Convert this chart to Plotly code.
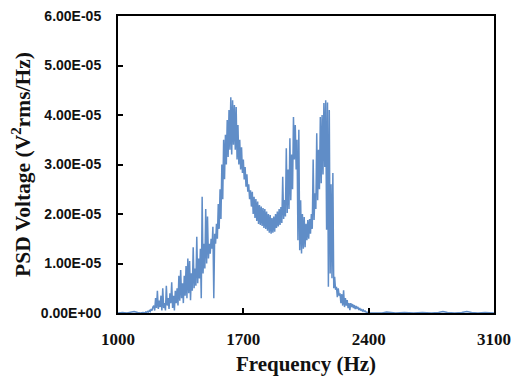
import plotly.graph_objects as go

# Frequency grid segments (Hz) and PSD values in units of 1e-5 V^2rms/Hz
freq_low = [1000, 1025, 1050, 1075, 1090, 1110, 1125, 1140]
psd_low = [0.0, 0.01, 0.0, 0.02, 0.03, 0.01, 0.0, 0.01]

freq_mid = [1150 + 5 * i for i in range(251)]  # 1150 .. 2400 Hz
psd_mid = [
    0.0, 0.02, 0.01, 0.03, 0.02, 0.05, 0.03, 0.08, 0.05, 0.12,
    0.15, 0.05, 0.30, 0.10, 0.45, 0.08, 0.25, 0.12, 0.35, 0.05,
    0.50, 0.10, 0.20, 0.05, 0.55, 0.15, 0.30, 0.08, 0.40, 0.20,
    0.62, 0.10, 0.35, 0.05, 0.45, 0.20, 0.50, 0.15, 0.75, 0.25,
    0.87, 0.30, 0.60, 0.20, 0.75, 0.35, 0.95, 0.30, 1.10, 0.40,
    1.05, 0.26, 0.80, 0.45, 1.33, 0.50, 0.90, 0.55, 1.54, 0.60,
    1.10, 0.70, 1.30, 0.30, 2.35, 0.80, 1.40, 0.90, 2.10, 1.00,
    1.95, 1.10, 1.40, 1.20, 1.50, 1.30, 1.74, 0.30, 1.60, 1.40,
    1.80, 1.50, 2.20, 1.70, 2.50, 1.90, 3.00, 2.30, 3.50, 2.70,
    3.60, 3.00, 3.90, 3.15, 4.10, 3.30, 4.36, 3.20, 4.30, 3.40,
    4.20, 3.30, 4.16, 3.10, 3.80, 3.00, 3.50, 2.90, 3.35, 2.83,
    3.10, 2.70, 2.95, 2.55, 2.80, 2.45, 2.60, 2.30, 2.48, 2.15,
    2.45, 2.00, 2.35, 1.92, 2.30, 1.86, 2.25, 1.80, 2.18, 1.78,
    2.15, 1.76, 2.12, 1.72, 2.10, 1.70, 2.05, 1.66, 2.00, 1.62,
    1.98, 1.60, 1.92, 1.62, 1.95, 1.64, 2.00, 1.72, 2.05, 1.75,
    2.10, 1.78, 2.14, 1.82, 2.75, 1.90, 2.28, 1.95, 3.33, 2.02,
    2.90, 2.10, 3.53, 2.28, 3.20, 2.50, 3.96, 3.10, 3.80, 2.90,
    3.50, 1.47, 3.70, 1.27, 2.28, 1.20, 2.00, 1.30, 1.94, 1.33,
    1.80, 1.47, 1.88, 1.50, 1.90, 1.60, 2.00, 1.70, 3.10, 1.88,
    2.42, 2.10, 3.63, 2.28, 3.30, 2.50, 3.96, 2.62, 4.00, 2.80,
    4.24, 2.95, 4.30, 1.68, 4.25, 0.53, 4.10, 0.80, 2.60, 0.70,
    2.83, 0.50, 0.73, 0.47, 0.53, 0.32, 0.50, 0.35, 0.40, 0.20,
    0.38, 0.15, 0.46, 0.12, 0.30, 0.15, 0.26, 0.10, 0.20, 0.06,
    0.20, 0.12, 0.18, 0.10, 0.16, 0.08, 0.14, 0.10, 0.12, 0.06,
    0.10, 0.05, 0.08, 0.04, 0.06, 0.03, 0.04, 0.02, 0.02, 0.01,
    0.0,
]

freq_high = [2425, 2450, 2475, 2500, 2525, 2550, 2600, 2650, 2700, 2750,
             2790, 2815, 2840, 2880, 2920, 2948, 2975, 3010, 3050, 3100]
psd_high = [0.0, 0.01, 0.0, 0.02, 0.01, 0.0, 0.01, 0.0, 0.01, 0.0,
             0.01, 0.03, 0.01, 0.0, 0.01, 0.03, 0.01, 0.0, 0.01, 0.0]

freq = freq_low + freq_mid + freq_high
psd = [v * 1e-5 for v in (psd_low + psd_mid + psd_high)]

y_tickvals = [0, 1e-5, 2e-5, 3e-5, 4e-5, 5e-5, 6e-5]
y_ticktext = ["0.00E+00", "1.00E-05", "2.00E-05", "3.00E-05",
              "4.00E-05", "5.00E-05", "6.00E-05"]
x_tickvals = [1000, 1700, 2400, 3100]
x_ticktext = ["1000", "1700", "2400", "3100"]

fig = go.Figure()
fig.add_trace(go.Scatter(
    x=freq, y=psd, mode="lines",
    line=dict(color="#4f81c2", width=1.5),
    opacity=0.9,
    showlegend=False,
))

fig.update_layout(
    width=511, height=378,
    margin=dict(l=118, r=17, t=16, b=65),
    paper_bgcolor="white", plot_bgcolor="white",
)
fig.update_xaxes(
    range=[1000, 3100], automargin=False,
    tickvals=x_tickvals, ticktext=["<b>%s</b>" % t for t in x_ticktext],
    ticks="inside", ticklen=5, tickwidth=2, tickcolor="black",
    showline=True, linewidth=2, linecolor="black", mirror=True,
    showgrid=False, zeroline=False,
    tickfont=dict(family="Liberation Serif", size=17, color="#111"),
    ticklabelstandoff=10,
    title=dict(text="<b>Frequency (Hz)</b>",
               font=dict(family="Liberation Serif", size=21, color="#111"),
               standoff=8),
)
fig.update_yaxes(
    range=[0, 6e-5], automargin=False,
    tickvals=y_tickvals, ticktext=["<b>%s</b>" % t for t in y_ticktext],
    ticks="inside", ticklen=5, tickwidth=2, tickcolor="black",
    showline=True, linewidth=2, linecolor="black", mirror=True,
    showgrid=False, zeroline=False,
    tickfont=dict(family="Liberation Sans", size=14, color="#111"),
    ticklabelstandoff=12,
    title=dict(text="<b>PSD Voltage (V<sup>2</sup>rms/Hz)</b>",
               font=dict(family="Liberation Serif", size=21.5, color="#111"),
               standoff=4),
)

fig.write_html("out.html")
